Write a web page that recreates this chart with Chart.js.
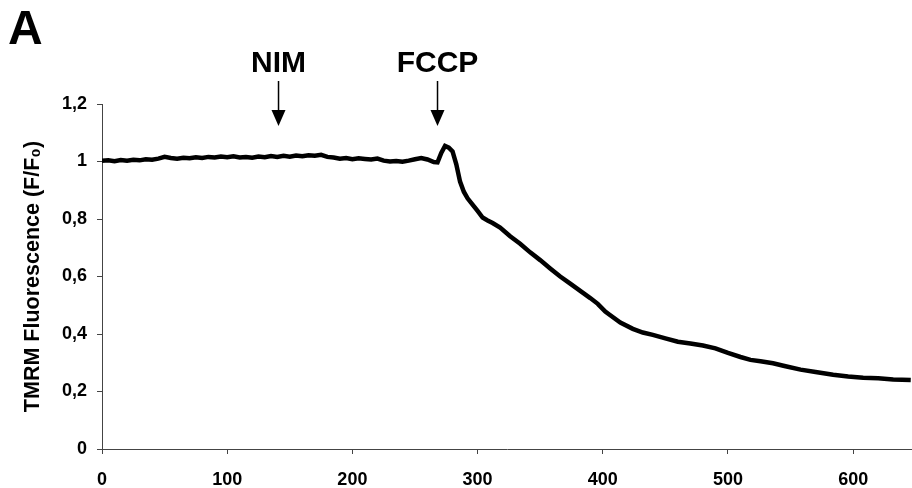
<!DOCTYPE html>
<html>
<head>
<meta charset="utf-8">
<script src="https://cdn.jsdelivr.net/npm/chart.js@4.4.1/dist/chart.umd.min.js"></script>
<style>
  html, body { margin: 0; padding: 0; background: #ffffff; }
  #wrap { width: 912px; height: 488px; }
</style>
</head>
<body>
<div id="wrap"><canvas id="c" width="912" height="488"></canvas></div>
<script>
// ---- data ----
const timeSeconds = [
  0, 5, 10, 15, 20, 25, 30, 35, 40, 45, 50, 55, 60, 65, 70, 75, 80, 85, 90, 95,
  100, 105, 110, 115, 120, 125, 130, 135, 140, 145, 150, 155, 160, 165, 170, 175,
  180, 185, 190, 195, 200, 205, 210, 215, 220, 225, 230, 235, 240, 245, 250, 255,
  260, 265, 268, 271, 274, 277, 280, 283, 286, 289, 292, 296, 300, 304, 308, 312,
  318, 326, 334, 342, 350, 358, 366, 374, 382, 390, 396, 402, 406, 414, 424, 432,
  440, 450, 460, 470, 480, 490, 500, 510, 518, 526, 536, 546, 558, 570, 584, 596,
  608, 620, 632, 646
];
const tmrmFluorescence = [
  1.003, 1.004, 1.001, 1.005, 1.003, 1.006, 1.004, 1.008, 1.006, 1.010, 1.016, 1.012, 1.010, 1.013, 1.011, 1.015, 1.012, 1.016, 1.014, 1.017,
  1.015, 1.018, 1.014, 1.016, 1.013, 1.017, 1.015, 1.019, 1.016, 1.020, 1.017, 1.021, 1.018, 1.022, 1.020, 1.023,
  1.016, 1.014, 1.010, 1.012, 1.008, 1.011, 1.009, 1.007, 1.010, 1.003, 1.000, 1.002, 0.999, 1.003, 1.008, 1.012,
  1.007, 0.998, 0.997, 1.030, 1.054, 1.048, 1.035, 0.990, 0.930, 0.895, 0.872, 0.850, 0.828, 0.805, 0.795, 0.786,
  0.770, 0.740, 0.714, 0.684, 0.657, 0.628, 0.600, 0.575, 0.550, 0.525, 0.505, 0.478, 0.465, 0.440, 0.418, 0.405,
  0.397, 0.385, 0.373, 0.367, 0.360, 0.350, 0.334, 0.320, 0.310, 0.305, 0.298, 0.288, 0.276, 0.268, 0.258, 0.252,
  0.248, 0.246, 0.242, 0.240
];
const yTickLabels = ["0", "0,2", "0,4", "0,6", "0,8", "1", "1,2"];
const xTickLabels = ["0", "100", "200", "300", "400", "500", "600"];
const treatmentNames = ["NIM", "FCCP"];
const treatmentTimes = [141, 268];
const panelLetter = "A";
const yAxisTitle = "TMRM Fluorescence (F/F\u2080)";

const points = timeSeconds.map((t, i) => ({ x: t, y: tmrmFluorescence[i] }));

Chart.defaults.font.family = "'Liberation Sans', Arial, Helvetica, sans-serif";
Chart.defaults.font.weight = "bold";
Chart.defaults.color = "#000";

const annotationPlugin = {
  id: "annotations",
  afterDraw(chart) {
    const ctx = chart.ctx;
    const xs = chart.scales.x;
    ctx.save();
    ctx.fillStyle = "#000";
    ctx.strokeStyle = "#000";
    // panel letter
    ctx.font = "bold 48px 'Liberation Sans', Arial, sans-serif";
    ctx.textAlign = "left";
    ctx.textBaseline = "alphabetic";
    ctx.fillText(panelLetter, 8, 44);
    // treatment labels and arrows
    treatmentNames.forEach((name, i) => {
      const px = xs.getPixelForValue(treatmentTimes[i]);
      ctx.font = "bold 30px 'Liberation Sans', Arial, sans-serif";
      ctx.textAlign = "center";
      ctx.textBaseline = "middle";
      ctx.fillText(name, px, 64);
      ctx.lineWidth = 1.5;
      ctx.beginPath();
      ctx.moveTo(px, 81);
      ctx.lineTo(px, 114);
      ctx.stroke();
      ctx.beginPath();
      ctx.moveTo(px - 7, 110);
      ctx.lineTo(px + 7, 110);
      ctx.lineTo(px, 126);
      ctx.closePath();
      ctx.fill();
    });
    ctx.restore();
  }
};

new Chart(document.getElementById("c"), {
  type: "line",
  data: {
    datasets: [{
      data: points,
      borderColor: "#000",
      borderWidth: 4.5,
      pointRadius: 0,
      tension: 0,
      fill: false
    }]
  },
  options: {
    responsive: false,
    animation: false,
    layout: { padding: { left: 0, right: 0, top: 104, bottom: 0 } },
    plugins: { legend: { display: false }, tooltip: { enabled: false } },
    scales: {
      x: {
        type: "linear",
        min: 0,
        max: 647,
        grid: { display: true, drawOnChartArea: false, drawTicks: true, tickLength: 5, tickColor: "#444", lineWidth: 1 },
        border: { display: true, color: "#444", width: 1 },
        ticks: {
          stepSize: 100,
          includeBounds: false,
          autoSkip: false,
          maxRotation: 0,
          padding: 15,
          font: { size: 18, weight: "bold" },
          color: "#000",
          callback: (v) => {
            const i = Math.round(v / 100);
            return (v % 100 === 0 && xTickLabels[i] !== undefined) ? xTickLabels[i] : "";
          }
        },
        afterFit: (s) => { s.height = 39; }
      },
      y: {
        type: "linear",
        min: 0,
        max: 1.2,
        grid: { display: true, drawOnChartArea: false, drawTicks: true, tickLength: 5, tickColor: "#444", lineWidth: 1 },
        border: { display: true, color: "#444", width: 1 },
        ticks: {
          stepSize: 0.2,
          padding: 10,
          font: { size: 18, weight: "bold" },
          color: "#000",
          callback: (v) => {
            const i = Math.round(v / 0.2);
            return yTickLabels[i] !== undefined ? yTickLabels[i] : "";
          }
        },
        title: {
          display: true,
          text: yAxisTitle,
          font: { size: 21.5, weight: "bold" },
          color: "#000",
          padding: { top: 20, bottom: 0 }
        },
        afterFit: (s) => { s.width = 102; }
      }
    }
  },
  plugins: [annotationPlugin]
});
</script>
</body>
</html>
